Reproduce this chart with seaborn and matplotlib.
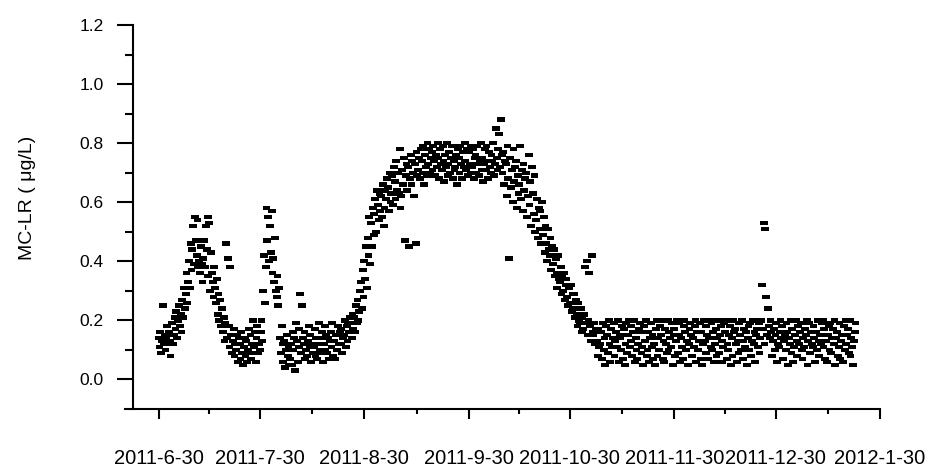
import pandas as pd
import numpy as np
import matplotlib.pyplot as plt
import matplotlib.dates as mdates
import seaborn as sns

# MC-LR readings (ug/L), four per day (00, 06, 12, 18 h), grouped by month
jun_jul_mc = [
    0.14, 0.11, 0.16, 0.09, 0.13, 0.25, 0.12, 0.15, 0.10, 0.14, 0.18, 0.12, 0.16, 0.13, 0.08, 0.15, 0.19, 0.12, 0.15, 0.21,
    0.17, 0.23, 0.14, 0.20, 0.25, 0.18, 0.22, 0.16, 0.27, 0.21, 0.31, 0.24, 0.29, 0.36, 0.26, 0.33, 0.40, 0.31, 0.46, 0.37,
    0.44, 0.52, 0.39, 0.55, 0.47, 0.42, 0.54, 0.38, 0.40, 0.36, 0.45, 0.39, 0.33, 0.41, 0.47, 0.38, 0.52, 0.44, 0.55, 0.35,
    0.53, 0.30, 0.43, 0.36, 0.33, 0.28, 0.38, 0.31, 0.26, 0.34, 0.22, 0.29, 0.20, 0.27, 0.18, 0.24, 0.16, 0.21, 0.13, 0.19,
    0.46, 0.14, 0.41, 0.18, 0.11, 0.38, 0.15, 0.09, 0.13, 0.17, 0.08, 0.12, 0.10, 0.15, 0.06, 0.14, 0.12, 0.07, 0.16, 0.09,
    0.05, 0.11, 0.14, 0.08, 0.13, 0.06, 0.10, 0.17, 0.09, 0.15, 0.07, 0.12, 0.20, 0.11, 0.16, 0.06, 0.14, 0.18, 0.09, 0.12,
    0.10, 0.16, 0.20, 0.13, 0.30, 0.42, 0.26, 0.38,
]
aug_mc = [
    0.58, 0.47, 0.55, 0.40, 0.52, 0.43, 0.57, 0.36, 0.41, 0.33, 0.48, 0.30, 0.28, 0.35, 0.25, 0.31, 0.14, 0.09, 0.18, 0.12,
    0.06, 0.13, 0.04, 0.10, 0.15, 0.08, 0.11, 0.05, 0.07, 0.12, 0.05, 0.16, 0.10, 0.14, 0.03, 0.19, 0.13, 0.06, 0.17, 0.11,
    0.29, 0.09, 0.25, 0.14, 0.12, 0.16, 0.07, 0.10, 0.08, 0.13, 0.18, 0.11, 0.15, 0.06, 0.12, 0.09, 0.11, 0.17, 0.08, 0.14,
    0.07, 0.12, 0.19, 0.10, 0.14, 0.09, 0.16, 0.06, 0.12, 0.18, 0.10, 0.15, 0.09, 0.14, 0.07, 0.13, 0.16, 0.11, 0.19, 0.08,
    0.13, 0.07, 0.15, 0.10, 0.10, 0.18, 0.12, 0.16, 0.17, 0.12, 0.09, 0.14, 0.15, 0.20, 0.11, 0.18, 0.13, 0.19, 0.16, 0.21,
    0.19, 0.14, 0.22, 0.17, 0.21, 0.16, 0.25, 0.19, 0.27, 0.20, 0.23, 0.30, 0.33, 0.24, 0.37, 0.28, 0.40, 0.34, 0.45, 0.31,
    0.48, 0.42, 0.55, 0.39,
]
sep_mc = [
    0.53, 0.45, 0.58, 0.49, 0.56, 0.61, 0.50, 0.64, 0.59, 0.54, 0.63, 0.57, 0.62, 0.55, 0.66, 0.52, 0.58, 0.64, 0.61, 0.68,
    0.65, 0.57, 0.70, 0.60, 0.63, 0.69, 0.59, 0.72, 0.67, 0.61, 0.74, 0.64, 0.70, 0.63, 0.78, 0.58, 0.62, 0.71, 0.66, 0.75,
    0.47, 0.69, 0.73, 0.64, 0.72, 0.45, 0.68, 0.76, 0.66, 0.74, 0.70, 0.62, 0.73, 0.46, 0.77, 0.69, 0.71, 0.75, 0.68, 0.78,
    0.74, 0.70, 0.79, 0.66, 0.76, 0.72, 0.69, 0.80, 0.73, 0.78, 0.70, 0.75, 0.77, 0.71, 0.79, 0.74, 0.69, 0.76, 0.72, 0.80,
    0.75, 0.68, 0.78, 0.73, 0.71, 0.79, 0.74, 0.67, 0.76, 0.72, 0.80, 0.69, 0.73, 0.77, 0.70, 0.75, 0.79, 0.68, 0.74, 0.71,
    0.72, 0.76, 0.66, 0.78, 0.75, 0.70, 0.79, 0.73, 0.68, 0.77, 0.72, 0.80, 0.74, 0.71, 0.78, 0.69, 0.77, 0.73, 0.70, 0.79,
]
oct_mc = [
    0.72, 0.78, 0.68, 0.75, 0.76, 0.70, 0.79, 0.73, 0.69, 0.74, 0.80, 0.71, 0.75, 0.67, 0.73, 0.78, 0.71, 0.79, 0.74, 0.68,
    0.77, 0.72, 0.70, 0.76, 0.74, 0.80, 0.69, 0.73, 0.85, 0.75, 0.71, 0.78, 0.83, 0.72, 0.88, 0.76, 0.70, 0.77, 0.66, 0.74,
    0.73, 0.62, 0.79, 0.68, 0.41, 0.75, 0.65, 0.71, 0.60, 0.78, 0.67, 0.72, 0.74, 0.58, 0.69, 0.63, 0.66, 0.79, 0.61, 0.71,
    0.57, 0.73, 0.64, 0.68, 0.70, 0.55, 0.62, 0.76, 0.59, 0.67, 0.52, 0.72, 0.63, 0.56, 0.69, 0.50, 0.54, 0.61, 0.48, 0.58,
    0.51, 0.57, 0.46, 0.60, 0.49, 0.55, 0.43, 0.52, 0.46, 0.40, 0.51, 0.44, 0.42, 0.48, 0.37, 0.45, 0.39, 0.44, 0.35, 0.41,
    0.36, 0.31, 0.42, 0.34, 0.33, 0.38, 0.29, 0.35, 0.30, 0.36, 0.27, 0.32, 0.34, 0.28, 0.25, 0.31, 0.26, 0.32, 0.23, 0.29,
    0.24, 0.29, 0.21, 0.27,
]
nov_mc = [
    0.22, 0.18, 0.26, 0.20, 0.19, 0.24, 0.16, 0.21, 0.17, 0.22, 0.38, 0.19, 0.40, 0.15, 0.20, 0.36, 0.18, 0.13, 0.42, 0.16,
    0.15, 0.19, 0.12, 0.17, 0.13, 0.08, 0.17, 0.11, 0.12, 0.16, 0.07, 0.19, 0.10, 0.14, 0.05, 0.18, 0.15, 0.09, 0.20, 0.12,
    0.06, 0.17, 0.11, 0.14, 0.19, 0.08, 0.13, 0.16, 0.11, 0.20, 0.06, 0.15, 0.14, 0.10, 0.18, 0.07, 0.17, 0.05, 0.12, 0.19,
    0.09, 0.15, 0.20, 0.11, 0.13, 0.18, 0.08, 0.16, 0.20, 0.06, 0.14, 0.10, 0.07, 0.12, 0.17, 0.19, 0.16, 0.09, 0.11, 0.05,
    0.18, 0.13, 0.20, 0.08, 0.10, 0.16, 0.06, 0.14, 0.19, 0.11, 0.15, 0.07, 0.12, 0.05, 0.17, 0.20, 0.08, 0.14, 0.10, 0.18,
    0.15, 0.20, 0.07, 0.13, 0.06, 0.17, 0.12, 0.09, 0.20, 0.10, 0.16, 0.14, 0.11, 0.19, 0.05, 0.15, 0.17, 0.08, 0.13, 0.20,
]
dec_mc = [
    0.09, 0.15, 0.19, 0.06, 0.14, 0.11, 0.07, 0.18, 0.20, 0.16, 0.10, 0.13, 0.05, 0.12, 0.17, 0.19, 0.15, 0.08, 0.14, 0.11,
    0.18, 0.20, 0.06, 0.16, 0.10, 0.13, 0.19, 0.07, 0.16, 0.05, 0.12, 0.20, 0.13, 0.18, 0.09, 0.15, 0.07, 0.14, 0.20, 0.11,
    0.19, 0.10, 0.16, 0.06, 0.12, 0.17, 0.08, 0.14, 0.20, 0.09, 0.15, 0.18, 0.06, 0.13, 0.11, 0.19, 0.16, 0.20, 0.07, 0.12,
    0.10, 0.15, 0.18, 0.05, 0.14, 0.08, 0.20, 0.16, 0.17, 0.12, 0.06, 0.13, 0.09, 0.19, 0.15, 0.10, 0.20, 0.07, 0.13, 0.17,
    0.11, 0.16, 0.05, 0.14, 0.18, 0.10, 0.19, 0.08, 0.13, 0.20, 0.12, 0.16, 0.06, 0.15, 0.17, 0.11, 0.19, 0.09, 0.14, 0.20,
    0.32, 0.17, 0.53, 0.12, 0.51, 0.28, 0.15, 0.24, 0.18, 0.14, 0.20, 0.16, 0.08, 0.13, 0.17, 0.10, 0.15, 0.19, 0.06, 0.12,
    0.11, 0.16, 0.20, 0.14,
]
jan_mc = [
    0.18, 0.07, 0.13, 0.15, 0.10, 0.19, 0.16, 0.05, 0.14, 0.12, 0.20, 0.09, 0.17, 0.06, 0.11, 0.15, 0.20, 0.13, 0.08, 0.18,
    0.12, 0.16, 0.19, 0.10, 0.07, 0.14, 0.11, 0.17, 0.15, 0.20, 0.05, 0.13, 0.19, 0.09, 0.16, 0.12, 0.11, 0.18, 0.14, 0.06,
    0.16, 0.10, 0.20, 0.13, 0.08, 0.15, 0.12, 0.19, 0.20, 0.11, 0.17, 0.07, 0.13, 0.06, 0.15, 0.18, 0.10, 0.19, 0.09, 0.14,
    0.17, 0.12, 0.20, 0.05, 0.14, 0.16, 0.08, 0.11, 0.19, 0.07, 0.13, 0.15, 0.06, 0.18, 0.10, 0.20, 0.12, 0.15, 0.17, 0.09,
    0.20, 0.08, 0.14, 0.11, 0.05, 0.13, 0.16, 0.19,
]
month_starts = ['2011-06-30', '2011-08-01', '2011-09-01', '2011-10-01', '2011-11-01', '2011-12-01', '2012-01-01']
tick_dates = ['2011-06-30', '2011-07-30', '2011-08-30', '2011-09-30', '2011-10-30', '2011-11-30', '2011-12-30', '2012-01-30']
tick_labels = ['2011-6-30', '2011-7-30', '2011-8-30', '2011-9-30', '2011-10-30', '2011-11-30', '2011-12-30', '2012-1-30']

frames = []
for start, vals in zip(month_starts, [jun_jul_mc, aug_mc, sep_mc, oct_mc, nov_mc, dec_mc, jan_mc]):
    t = pd.date_range(start, periods=len(vals), freq='6h')
    frames.append(pd.DataFrame({'time': t, 'mc': vals}))
df = pd.concat(frames, ignore_index=True)

sns.set_style('ticks', {'axes.edgecolor': 'black', 'xtick.color': 'black', 'ytick.color': 'black',
                        'text.color': 'black', 'axes.labelcolor': 'black'})
plt.rcParams['font.family'] = ['Liberation Sans', 'DejaVu Sans']

fig = plt.figure(figsize=(9.38, 4.66), dpi=100)
ax = fig.add_axes([125 / 938, 57 / 466, 755 / 938, 384 / 466])

# short horizontal dash marker
dash = [(-1, -0.55), (1, -0.55), (1, 0.55), (-1, 0.55)]
sns.scatterplot(data=df, x='time', y='mc', marker=dash, s=32, color='black',
                linewidth=0, edgecolor='none', ax=ax)

ax.set_xlim(pd.Timestamp('2011-06-20'), pd.Timestamp('2012-01-30'))
ax.set_ylim(-0.1, 1.2)

for side in ['top', 'right']:
    ax.spines[side].set_visible(False)
for side in ['left', 'bottom']:
    ax.spines[side].set_linewidth(1.5)
ax.spines['left'].set_position(('data', mdates.date2num(pd.Timestamp('2011-06-22 12:00'))))

major = mdates.date2num(pd.to_datetime(tick_dates))
ax.set_xticks(major)
ax.set_xticklabels(tick_labels)
ax.set_xticks((major[:-1] + major[1:]) / 2, minor=True)

yt = [0.0, 0.2, 0.4, 0.6, 0.8, 1.0, 1.2]
ax.set_yticks(yt)
ax.set_yticklabels(['%.1f' % v for v in yt])
ax.set_yticks([0.1, 0.3, 0.5, 0.7, 0.9, 1.1], minor=True)

ax.tick_params(axis='x', which='major', direction='out', length=7, width=1.5, pad=21.5, labelsize=14.5)
ax.tick_params(axis='x', which='minor', direction='out', length=3.6, width=1.5)
ax.tick_params(axis='y', which='major', direction='out', length=11.5, width=1.5, pad=10, labelsize=12.5)
ax.tick_params(axis='y', which='minor', direction='out', length=6, width=1.5)

ax.set_xlabel('')
ax.set_ylabel('MC-LR ( μg/L)', fontsize=14)
ax.yaxis.set_label_coords(-0.118, 0.55)

fig.savefig('out.png', dpi=100)
